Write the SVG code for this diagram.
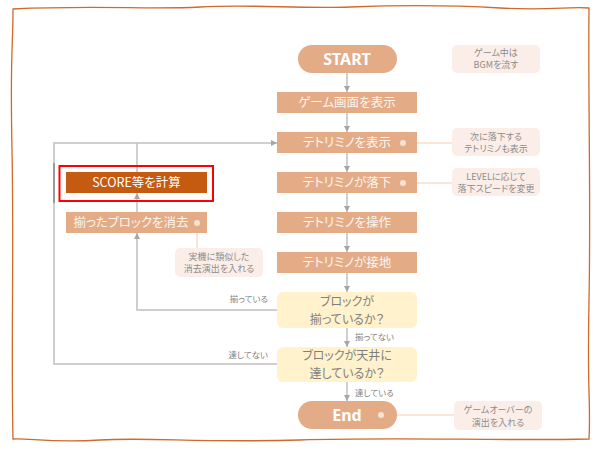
<svg xmlns="http://www.w3.org/2000/svg" width="600" height="450" viewBox="0 0 600 450">
<defs>
<style>
.box{fill:#e3ac87}
.term{fill:#e3ac87}
.dec{fill:#fff2cc}
.note{fill:#fbeee8}
text{font-feature-settings:"palt"}
.bt{font-family:"Noto Sans CJK JP","Noto Sans",sans-serif;font-size:12.5px;fill:#fdf5ee;text-anchor:middle}
.tt{font-family:"Noto Sans","Open Sans",sans-serif;font-size:16px;font-weight:bold;fill:#ffffff;text-anchor:middle}
.dt{font-family:"Noto Sans CJK JP","Noto Sans",sans-serif;font-size:12px;fill:#7f7f7f;text-anchor:middle}
.nt{font-family:"Noto Sans CJK JP","Noto Sans",sans-serif;font-size:9px;fill:#8c8c8c;text-anchor:middle}
.lt{font-family:"Noto Sans CJK JP","Noto Sans",sans-serif;font-size:8.5px;fill:#7f7f7f}
.cn{fill:none;stroke:#c0c0c0;stroke-width:1.5}
.nl{fill:none;stroke:#f8dccb;stroke-width:1.5}
.dot{fill:#f9e2d3}
</style>
<marker id="ar" viewBox="0 0 6 6" refX="6" refY="3" markerWidth="6" markerHeight="6" markerUnits="userSpaceOnUse" orient="auto">
<path d="M0,0 L6,3 L0,6 z" fill="#a6a6a6"/>
</marker>
</defs>
<rect width="600" height="450" fill="#ffffff"/>
<path d="M13,9 C100,5 150,10 200,7 S300,9 350,7 S450,5 500,8 S570,6 589,8 C588,100 591,200 589,300 S591,400 589,439 C500,441 400,437 300,440 S150,437 100,440 S30,438 13,439 C11,350 14,250 12,150 S13,50 13,9 Z" fill="none" stroke="#d0692a" stroke-width="1.3"/>
<g id="connectors">
<path class="cn" d="M347,73 V92" marker-end="url(#ar)"/>
<path class="cn" d="M347,113 V132" marker-end="url(#ar)"/>
<path class="cn" d="M347,153 V172" marker-end="url(#ar)"/>
<path class="cn" d="M347,193 V212" marker-end="url(#ar)"/>
<path class="cn" d="M347,233 V252" marker-end="url(#ar)"/>
<path class="cn" d="M347,273 V292" marker-end="url(#ar)"/>
<path class="cn" d="M347,328 V347" marker-end="url(#ar)"/>
<path class="cn" d="M347,382 V401" marker-end="url(#ar)"/>
<path class="cn" d="M277,310 H137 V233" marker-end="url(#ar)"/>
<path class="cn" d="M137,212 V193" marker-end="url(#ar)"/>
<path class="cn" d="M137,172 V143"/>
<path class="cn" d="M277,364 H54 V143 H277" marker-end="url(#ar)"/>
<path d="M54,163 V203" fill="none" stroke="#8a8a8a" stroke-width="1.5"/>
<text class="lt" x="268" y="302" text-anchor="end">揃っている</text>
<text class="lt" x="268" y="358" text-anchor="end">達してない</text>
<text class="lt" x="355" y="340">揃ってない</text>
<text class="lt" x="355" y="396">達している</text>
<path class="nl" d="M403,143 H452"/>
<path class="nl" d="M403,183 H452"/>
<path class="nl" d="M197,223 V248"/>
<path class="nl" d="M381,415 H454"/>
</g>
<g id="start">
<rect class="term" x="298" y="45" width="99" height="28" rx="14"/>
<text class="tt" x="347" y="64.5">START</text>
</g>
<g id="show-screen">
<rect class="box" x="277" y="92" width="140" height="21"/>
<text class="bt" x="347" y="107">ゲーム画面を表示</text>
</g>
<g id="show-tetrimino">
<rect class="box" x="277" y="132" width="140" height="21"/>
<text class="bt" x="347" y="147">テトリミノを表示</text>
<circle class="dot" cx="403" cy="143" r="3"/>
</g>
<g id="fall">
<rect class="box" x="277" y="172" width="140" height="21"/>
<text class="bt" x="347" y="187">テトリミノが落下</text>
<circle class="dot" cx="403" cy="183" r="3"/>
</g>
<g id="operate">
<rect class="box" x="277" y="212" width="140" height="21"/>
<text class="bt" x="347" y="227">テトリミノを操作</text>
</g>
<g id="land">
<rect class="box" x="277" y="252" width="140" height="21"/>
<text class="bt" x="347" y="267">テトリミノが接地</text>
</g>
<g id="check-lines">
<rect class="dec" x="277" y="292" width="140" height="36" rx="6"/>
<text class="dt" x="347" y="305.5">ブロックが</text>
<text class="dt" x="347" y="323.5">揃っているか？</text>
</g>
<g id="check-ceiling">
<rect class="dec" x="277" y="347" width="140" height="35" rx="6"/>
<text class="dt" x="347" y="360">ブロックが天井に</text>
<text class="dt" x="347" y="378">達しているか？</text>
</g>
<g id="end">
<rect class="term" x="298" y="401" width="99" height="28" rx="14"/>
<text class="tt" x="347" y="420.5">End</text>
<circle class="dot" cx="381" cy="415" r="3"/>
</g>
<g id="score">
<rect x="66" y="172" width="141" height="21" fill="#c55a11"/>
<text class="bt" x="136.5" y="187" style="fill:#ffffff">SCORE等を計算</text>
<rect x="59.5" y="166" width="153.5" height="35" fill="none" stroke="#ff0000" stroke-width="2"/>
</g>
<g id="clear">
<rect class="box" x="66" y="212" width="141" height="21"/>
<text class="bt" x="131" y="227">揃ったブロックを消去</text>
<circle class="dot" cx="197" cy="223" r="3"/>
</g>
<g id="note-bgm">
<rect class="note" x="452" y="45" width="88" height="28" rx="5"/>
<text class="nt" x="496" y="56">ゲーム中は</text>
<text class="nt" x="496" y="68">BGMを流す</text>
</g>
<g id="note-next">
<rect class="note" x="452" y="128" width="88" height="28" rx="5"/>
<text class="nt" x="496" y="140">次に落下する</text>
<text class="nt" x="496" y="152">テトリミノも表示</text>
</g>
<g id="note-level">
<rect class="note" x="452" y="168" width="88" height="28" rx="5"/>
<text class="nt" x="496" y="179.5">LEVELに応じて</text>
<text class="nt" x="496" y="191.5">落下スピードを変更</text>
</g>
<g id="note-clear">
<rect class="note" x="175" y="248" width="88" height="29" rx="5"/>
<text class="nt" x="219" y="260">実機に類似した</text>
<text class="nt" x="219" y="272">消去演出を入れる</text>
</g>
<g id="note-end">
<rect class="note" x="454" y="401" width="88" height="29" rx="5"/>
<text class="nt" x="498" y="413">ゲームオーバーの</text>
<text class="nt" x="498" y="425.5">演出を入れる</text>
</g>
</svg>
